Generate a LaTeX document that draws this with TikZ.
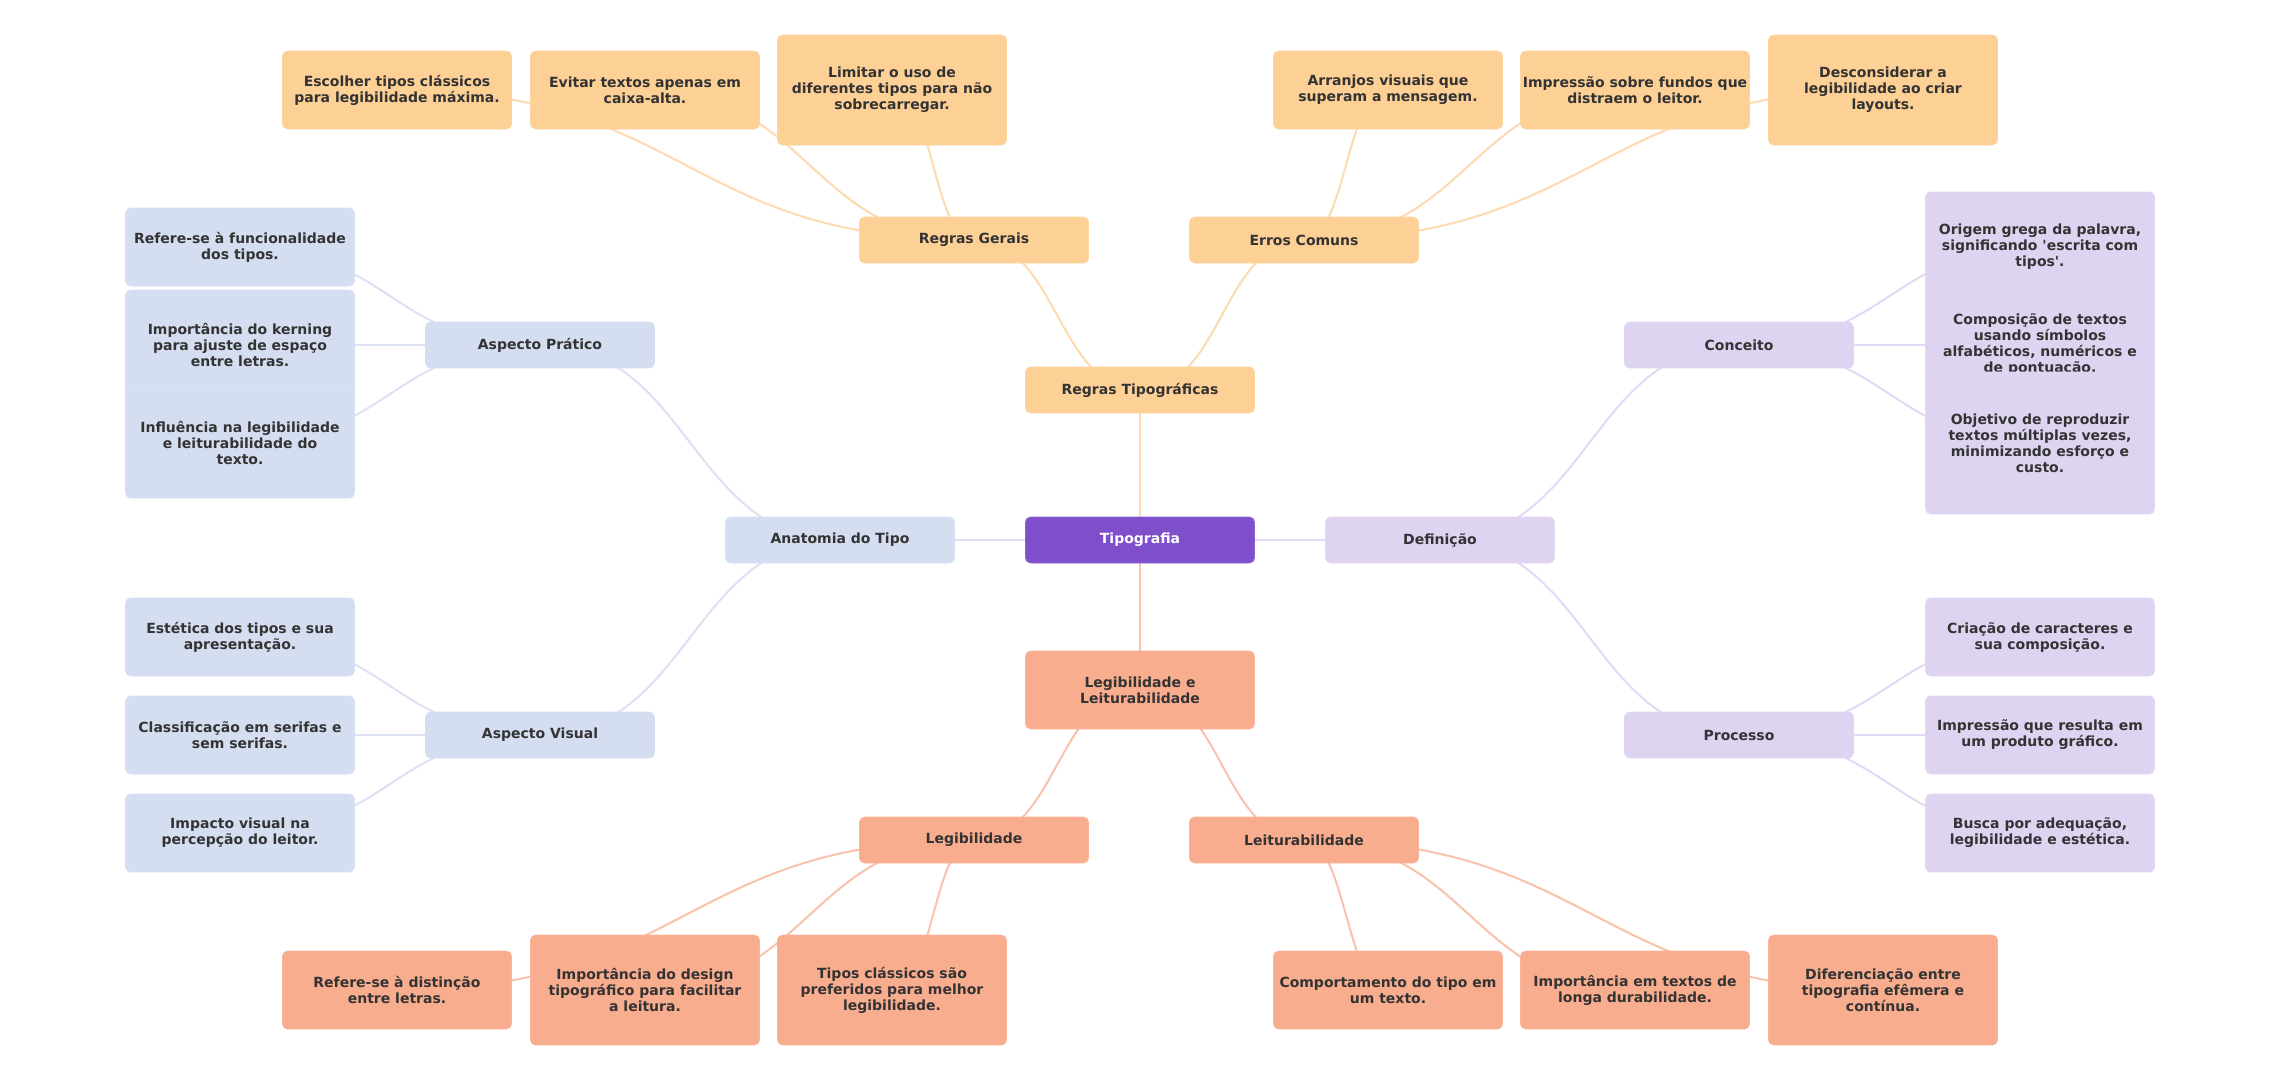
\documentclass[tikz,border=0pt]{standalone}
\usepackage{fontspec}
\setmainfont{DejaVu Sans}
\usetikzlibrary{calc}
\definecolor{cOr}{HTML}{FDD095}
\definecolor{cSa}{HTML}{F9AD8F}
\definecolor{cLa}{HTML}{DED4F1}
\definecolor{cBl}{HTML}{D5DDF1}
\definecolor{cPu}{HTML}{7F4FCB}
\definecolor{cTxt}{HTML}{333333}
\definecolor{eOr}{HTML}{FDDAB0}
\definecolor{eSa}{HTML}{F9C2AC}
\definecolor{eLa}{HTML}{E2DAF4}
\definecolor{eBl}{HTML}{DCE2F4}
\pgfdeclarelayer{edges}
\pgfsetlayers{edges,main}
\newcommand\mmlink[3]{%
  \path ($(#2.center)!0.5!(#3.center)$) coordinate (mmmid);
  \draw[#1] (#2.center) .. controls (#2.center -| mmmid) and (#3.center -| mmmid) .. (#3.center);}
\begin{document}
\begin{tikzpicture}[x=1pt,y=-1pt,
  box/.style={rectangle, rounded corners=5pt, minimum width=229pt, align=center,
    font=\fontsize{14}{16}\selectfont\bfseries, text=cTxt, inner sep=0pt, line width=0.6pt},
  h1/.style={minimum height=46pt},
  h2/.style={minimum height=78pt},
  h3/.style={minimum height=110pt},
  h4/.style={minimum height=142pt},
  orb/.style={box, fill=cOr, draw=cOr!90!white},
  sab/.style={box, fill=cSa, draw=cSa!90!white},
  lab/.style={box, fill=cLa, draw=cLa!90!white},
  blb/.style={box, fill=cBl, draw=cBl!90!white},
  pub/.style={box, fill=cPu, draw=cPu!90!white, text=white},
  eor/.style={draw=eOr, line width=2pt},
  esa/.style={draw=eSa, line width=2pt},
  ela/.style={draw=eLa, line width=2pt},
  ebl/.style={draw=eBl, line width=2pt}]
\useasboundingbox (0,0) rectangle (2280,1080);

% root and first level
\node[pub,h1] (root) at (1140,540) {Tipografia};
\node[orb,h1] (rt) at (1140,390) {Regras Tipográficas};
\node[blb,h1] (at) at (840,540) {Anatomia do Tipo};
\node[lab,h1] (df) at (1440,540) {Definição};
\node[sab,h2] (ll) at (1140,690) {Legibilidade e\\Leiturabilidade};

% second level
\node[orb,h1] (rg) at (974,240) {Regras Gerais};
\node[orb,h1] (ec) at (1304,240) {Erros Comuns};
\node[blb,h1] (ap) at (540,345) {Aspecto Prático};
\node[blb,h1] (av) at (540,735) {Aspecto Visual};
\node[lab,h1] (co) at (1739,345) {Conceito};
\node[lab,h1] (pr) at (1739,735) {Processo};
\node[sab,h1] (lg) at (974,840) {Legibilidade};
\node[sab,h1] (lt) at (1304,840) {Leiturabilidade};

% leaves: Regras Gerais
\node[orb,h2] (rg1) at (397,90) {Escolher tipos clássicos\\para legibilidade máxima.};
\node[orb,h2] (rg2) at (645,90) {Evitar textos apenas em\\caixa-alta.};
\node[orb,h3] (rg3) at (892,90) {Limitar o uso de\\diferentes tipos para não\\sobrecarregar.};
% leaves: Erros Comuns
\node[orb,h2] (ec1) at (1388,90) {Arranjos visuais que\\superam a mensagem.};
\node[orb,h2] (ec2) at (1635,90) {Impressão sobre fundos que\\distraem o leitor.};
\node[orb,h3] (ec3) at (1883,90) {Desconsiderar a\\legibilidade ao criar\\layouts.};
% leaves: Aspecto Pratico
\node[blb,h2] (ap1) at (240,247) {Refere-se à funcionalidade\\dos tipos.};
\node[blb,h3] (ap2) at (240,345) {Importância do kerning\\para ajuste de espaço\\entre letras.};
\node[blb,h3] (ap3) at (240,443) {Influência na legibilidade\\e leiturabilidade do\\texto.};
% leaves: Aspecto Visual
\node[blb,h2] (av1) at (240,637) {Estética dos tipos e sua\\apresentação.};
\node[blb,h2] (av2) at (240,735) {Classificação em serifas e\\sem serifas.};
\node[blb,h2] (av3) at (240,833) {Impacto visual na\\percepção do leitor.};
% leaves: Conceito
\node[lab,h3] (co1) at (2040,247) {Origem grega da palavra,\\significando \textquotesingle escrita com\\tipos\textquotesingle.};
\node[lab,h4] (co2) at (2040,345) {Composição de textos\\usando símbolos\\alfabéticos, numéricos e\\de pontuação.};
\node[lab,h4] (co3) at (2040,443) {Objetivo de reproduzir\\textos múltiplas vezes,\\minimizando esforço e\\custo.};
% leaves: Processo
\node[lab,h2] (pr1) at (2040,637) {Criação de caracteres e\\sua composição.};
\node[lab,h2] (pr2) at (2040,735) {Impressão que resulta em\\um produto gráfico.};
\node[lab,h2] (pr3) at (2040,833) {Busca por adequação,\\legibilidade e estética.};
% leaves: Legibilidade
\node[sab,h2] (lg1) at (397,990) {Refere-se à distinção\\entre letras.};
\node[sab,h3] (lg2) at (645,990) {Importância do design\\tipográfico para facilitar\\a leitura.};
\node[sab,h3] (lg3) at (892,990) {Tipos clássicos são\\preferidos para melhor\\legibilidade.};
% leaves: Leiturabilidade
\node[sab,h2] (lt1) at (1388,990) {Comportamento do tipo em\\um texto.};
\node[sab,h2] (lt2) at (1635,990) {Importância em textos de\\longa durabilidade.};
\node[sab,h3] (lt3) at (1883,990) {Diferenciação entre\\tipografia efêmera e\\contínua.};

\begin{pgfonlayer}{edges}
\fill[white] (0,0) rectangle (2280,1080);
\mmlink{eor}{root}{rt}
\mmlink{ebl}{root}{at}
\mmlink{ela}{root}{df}
\mmlink{esa}{root}{ll}
\mmlink{eor}{rt}{rg}
\mmlink{eor}{rt}{ec}
\mmlink{ebl}{at}{ap}
\mmlink{ebl}{at}{av}
\mmlink{ela}{df}{co}
\mmlink{ela}{df}{pr}
\mmlink{esa}{ll}{lg}
\mmlink{esa}{ll}{lt}
\mmlink{eor}{rg}{rg1}
\mmlink{eor}{rg}{rg2}
\mmlink{eor}{rg}{rg3}
\mmlink{eor}{ec}{ec1}
\mmlink{eor}{ec}{ec2}
\mmlink{eor}{ec}{ec3}
\mmlink{ebl}{ap}{ap1}
\mmlink{ebl}{ap}{ap2}
\mmlink{ebl}{ap}{ap3}
\mmlink{ebl}{av}{av1}
\mmlink{ebl}{av}{av2}
\mmlink{ebl}{av}{av3}
\mmlink{ela}{co}{co1}
\mmlink{ela}{co}{co2}
\mmlink{ela}{co}{co3}
\mmlink{ela}{pr}{pr1}
\mmlink{ela}{pr}{pr2}
\mmlink{ela}{pr}{pr3}
\mmlink{esa}{lg}{lg1}
\mmlink{esa}{lg}{lg2}
\mmlink{esa}{lg}{lg3}
\mmlink{esa}{lt}{lt1}
\mmlink{esa}{lt}{lt2}
\mmlink{esa}{lt}{lt3}
\end{pgfonlayer}
\end{tikzpicture}
\end{document}
